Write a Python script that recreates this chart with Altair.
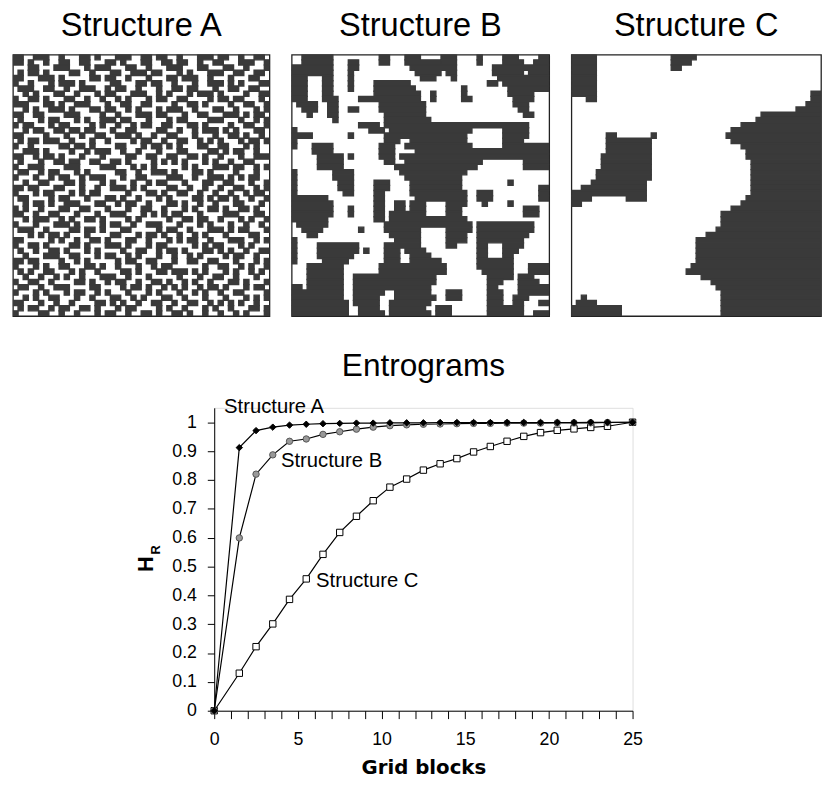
import altair as alt
import pandas as pd

N = 50
DARK = "#3a3a3a"

# ---------- Structure A: rows of the 50x50 grid ('#' = dark cell) ----------
A_rows = [
    "##..###..#" "...##.#..." "###..##.##" "..#...###." "##..#..##.",
    "##.#..#..#" "#..##...##" ".#...##..#" "#.##..#..#" "#...###..#",
    "...##...##" "#...#.###." "..##..#..." "###...##.." ".##..#...#",
    ".#.##.#..." ".##..#...#" "#..###.##." "..#.#...##" "#..##..##.",
    "##...###.#" ".....##.##" "..#...#..." "##.###..#." "..#...##..",
    "#..#...#.#" "##.#.....#" "#...##.##." ".#...#..##" "#.#.#...##",
    ".###..##.." "#..###..#." "##..#...#." ".##.##...#" "..##..##..",
    "..#.#...##" "..#...#.##" "...###..#." "#...#.###." "#....#..##",
    "#..##.#..." "##..#..#.." "#.#...#.##" "..##....#." "##.##...#.",
    "###...##.#" "..###...#." ".##..##..." ".#..##.#.." "..#..##..#",
    "..#.#..###" ".#...##.##" "..#.#...#." "###..#...#" "#..#...#.#",
    "##..##...." "###....#.." "#...###.##" "...#..##.." ".###.#.##.",
    ".#...#.##." "..#.#..###" ".##...#..." "#.##....##" "#...#..#.#",
    "#.##...#.#" "#....#.#.." "#..#.##..#" "#...##.#.." "..#..##..#",
    "..#.##..##" ".##.##...#" "..##....##" "..#..#.###" ".#.#...##.",
    "##....#..." "#..#..##.." "###.#..#.." "##...#...#" "..##.#..#.",
    ".#.##.###." ".#...#..#." "...#.##..#" "..##..#.#." "#...#.##.#",
    "#..#.....#" "#.##.#...." "##...#.##." "#.#...##.." "##...#.#..",
    "..###.#..." ".#..#.###." ".#..#...#." "..##....##" ".#.##..#..",
    "##..#.##.#" "...#...#.." "..##..##.." "##..##.#.." "#...#..###",
    ".#...#..##" ".##..##..#" "#.#....#.#" ".#.#...#.#" "..#..##...",
    "#..###...." "###....###" "...#.#.#.." "...#.#...#" "##.##..#.#",
    ".##..#.##." "..#.#....." "##..#..###" ".#...##.#." "...#...#..",
    "#...#..#.#" "#..#.###.." ".#..##...." "###..#..##" "#.#.#.##..",
    "..#..##..." "##.#...#.#" "...#..#.##" "...#...##." ".##...#..#",
    "##.##...##" "...#..#..#" "##.#.#...." "##..#..#.." "#..##..#.#",
    "#...#.##.." ".#.#.##..." "..#...##.#" "..##..#..#" "..#..#.##.",
    ".##....#.#" "#...#...##" ".#..#...#." "#....##.#." "##.#..#..#",
    "..#.##.#.." "###...##.." "#.##..#..." "##.#..#..#" "...##...#.",
    "#.#..#...#" "#..##...#." "..#..##..#" "...#.#..##" ".#..##.#..",
    "##..#..##." "..#...#..#" "##...#.#.#" ".##...#..." ".###...##.",
    "..#.###..#" ".#..##.#.." "..#.#....." "#..##.##.." "#...#.#..#",
    "#...#...##" "#.#....#.#" "#..#..###." "..#...#.#." "..#..#..#.",
    ".###..#..." ".##.##.#.." ".##.....#." "##..#...##" "#.#.##...#",
    "...#.#.##." "#...#....#" "#...#.##.#" "..#..#.#.." ".#....##..",
    "##.....#.#" "..#..##.#." "..##..#..." "#.#.##..#." "..###..#.#",
    "#..##.#..." ".##.#...##" "#.#...#.##" ".....#.#.#" "#...#.#...",
    ".#..#..##." "#...#.#..." ".#..##..#." "##.#...##." "#.#..#..##",
    "..#...###." ".##...#.##" "..#.#...#." ".#..#.#..." ".#.##..#..",
    "##.##....#" "..#.#....." "#.##..##.." ".#..##..##" "...#...#.#",
    "#...#.#..#" "#...##.#.." "#...#..#.#" "#......#.." "##..#.#..#",
    ".#.#..##.." ".#.#..#..." ".##.#...##" ".###.#.#.." ".#.#..#.#.",
    "..#..#..#." "#..#...###" "..#...#..." "..#...#..#" "#..#...#..",
    "#..##..#.." "..##.#..#." "##..#..##." "#..#.#..#." "..##.#...#",
    ".##..#..##" "#....##..." ".#.##.#..#" ".#.#..#.##" ".#...#.##.",
    "#...#.#..." "#.##..#.#." "..#...#.#." "..#..#.#.." "#..##....#",
    "..#.#..##." "..#..#...#" "#..#.#...#" "#..#...#.." ".#...#.#.#",
    "##...#..#." ".#....##.#" ".#..#..##." ".#..##..#." "#.#.#..#..",
    ".#.##..#.#" "#..##.#..." "#.##....#." "#..#...#.#" "..#...##.#",
    "#....##..#" "..#...#.##" "..#..##.#." ".##.#..#.." "#..#.#...#",
]

# ---------- Structure B: dark runs per row (first col, last col) ----------
B_runs = [
    [(2, 7), (17, 18), (22, 24), (29, 31), (36, 36), (41, 43), (48, 49)],
    [(2, 7), (11, 12), (17, 18), (22, 28), (29, 31), (36, 36), (41, 44), (47, 49)],
    [(0, 7), (11, 12), (23, 31), (39, 49)],
    [(0, 7), (11, 11), (24, 28), (30, 31), (39, 44), (46, 49)],
    [(0, 2), (6, 7), (11, 11), (25, 27), (31, 31), (40, 49)],
    [(0, 2), (6, 7), (11, 11), (16, 22), (38, 39), (41, 49)],
    [(0, 2), (6, 7), (11, 11), (16, 23), (33, 33), (42, 49)],
    [(0, 2), (6, 7), (16, 24), (27, 27), (33, 33), (42, 46)],
    [(0, 2), (6, 8), (13, 24), (27, 27), (33, 34), (43, 46)],
    [(1, 4), (7, 8), (17, 25), (43, 45)],
    [(2, 4), (7, 8), (11, 12), (17, 25), (44, 45)],
    [(3, 3), (7, 8), (18, 25), (45, 46)],
    [(8, 8), (18, 26)],
    [(13, 16), (18, 45)],
    [(0, 0), (15, 17), (19, 34), (41, 45)],
    [(0, 3), (11, 11), (18, 33), (41, 45)],
    [(0, 0), (18, 20), (23, 33), (41, 44)],
    [(0, 0), (4, 7), (17, 19), (22, 34), (41, 49)],
    [(4, 7), (17, 19), (24, 49)],
    [(5, 9), (11, 11), (17, 19), (21, 49)],
    [(5, 9), (18, 19), (22, 36), (45, 49)],
    [(5, 9), (20, 35), (45, 49)],
    [(0, 0), (8, 11), (21, 33)],
    [(0, 0), (8, 11), (22, 32)],
    [(0, 0), (9, 11), (16, 18), (23, 32), (42, 42)],
    [(0, 0), (9, 11), (16, 18), (23, 32), (48, 49)],
    [(0, 0), (10, 11), (16, 17), (23, 33), (36, 38), (48, 49)],
    [(0, 6), (16, 17), (24, 33), (36, 38), (48, 49)],
    [(0, 7), (16, 17), (20, 21), (23, 25), (30, 33), (37, 37), (42, 42)],
    [(0, 7), (11, 11), (16, 17), (20, 21), (23, 25), (30, 32), (45, 47)],
    [(0, 7), (11, 11), (16, 17), (19, 25), (30, 32), (45, 47)],
    [(0, 6), (16, 17), (19, 33)],
    [(1, 6), (18, 34), (36, 46)],
    [(2, 5), (13, 13), (18, 24), (30, 34), (36, 46)],
    [(3, 4), (19, 24), (30, 33), (36, 45)],
    [(0, 0), (20, 24), (30, 33), (36, 44)],
    [(0, 0), (5, 12), (18, 24), (30, 31), (36, 37), (41, 44)],
    [(0, 0), (5, 12), (14, 14), (18, 20), (22, 25), (36, 37), (41, 43)],
    [(0, 0), (5, 11), (18, 20), (23, 26), (36, 37), (41, 42)],
    [(0, 0), (6, 10), (18, 20), (23, 28), (36, 42)],
    [(3, 9), (17, 29), (36, 42), (46, 49)],
    [(3, 9), (17, 29), (37, 42), (46, 49)],
    [(3, 9), (12, 27), (38, 42), (44, 46)],
    [(3, 9), (12, 27), (38, 40), (44, 47)],
    [(0, 1), (3, 9), (12, 26), (38, 39), (44, 49)],
    [(0, 9), (12, 17), (20, 26), (30, 32), (38, 40), (44, 49)],
    [(0, 9), (12, 16), (20, 27), (30, 32), (38, 40), (43, 45)],
    [(0, 10), (12, 16), (19, 26), (38, 40), (43, 44), (48, 49)],
    [(0, 10), (13, 16), (19, 25), (28, 30), (38, 44)],
    [(0, 10), (13, 17), (19, 26), (28, 30), (38, 44), (47, 49)],
]

# ---------- Structure C: dark runs per row ----------
C_runs = [
    [(0, 4), (20, 24)],
    [(0, 4), (20, 23)],
    [(0, 4), (20, 21)],
    [(0, 4)], [(0, 4)], [(0, 4)], [(0, 4)],
    [(0, 4), (48, 49)],
    [(3, 4), (48, 49)],
    [(47, 49)],
    [(45, 49)],
    [(38, 49)],
    [(37, 49)],
    [(34, 49)],
    [(32, 49)],
    [(7, 8), (16, 16), (31, 49)],
    [(7, 15), (32, 49)],
    [(7, 15), (34, 49)],
    [(7, 15), (35, 49)],
    [(6, 15), (35, 49)],
    [(6, 15), (36, 49)],
    [(6, 15), (36, 49)],
    [(5, 15), (36, 49)],
    [(5, 15), (36, 49)],
    [(4, 14), (36, 49)],
    [(2, 14), (36, 49)],
    [(0, 14), (36, 49)],
    [(0, 3), (11, 14), (35, 49)],
    [(0, 1), (34, 49)],
    [(32, 49)],
    [(30, 49)], [(30, 49)], [(30, 49)],
    [(29, 49)],
    [(27, 49)],
    [(25, 49)], [(25, 49)], [(25, 49)], [(25, 49)], [(25, 49)],
    [(24, 49)],
    [(23, 49)],
    [(26, 49)],
    [(28, 49)],
    [(29, 49)],
    [(30, 49)],
    [(2, 2), (30, 49)],
    [(1, 4), (30, 49)],
    [(0, 9), (30, 49)],
    [(0, 9), (30, 49)],
]

# ---------- Entrograms ----------
grid_blocks = [0, 1.5, 2.5, 3.5, 4.5, 5.5, 6.5, 7.5, 8.5, 9.5, 10.5, 11.5, 12.5,
               13.5, 14.5, 15.5, 16.5, 17.5, 18.5, 19.5, 20.5, 21.5, 22.5, 23.5, 25]
hr_A = [0, 0.912, 0.971, 0.983, 0.990, 0.993, 0.995, 0.996, 0.997, 0.997, 0.998, 0.998, 0.998,
        0.999, 0.999, 0.999, 0.999, 0.999, 0.999, 0.999, 0.999, 0.999, 1.0, 1.0, 1.0]
hr_B = [0, 0.599, 0.820, 0.887, 0.934, 0.942, 0.958, 0.967, 0.976, 0.983, 0.988, 0.991, 0.993,
        0.994, 0.995, 0.996, 0.996, 0.997, 0.997, 0.997, 0.998, 0.998, 0.998, 0.999, 1.0]
hr_C = [0, 0.130, 0.222, 0.301, 0.386, 0.457, 0.542, 0.618, 0.674, 0.728, 0.775, 0.803, 0.834,
        0.856, 0.874, 0.897, 0.916, 0.934, 0.951, 0.964, 0.972, 0.977, 0.982, 0.986, 1.0]
y_ticks = [0, 0.1, 0.2, 0.3, 0.4, 0.5, 0.6, 0.7, 0.8, 0.9, 1.0]
x_ticks = list(range(26))

label_names = ["Structure A", "Structure B", "Structure C"]
label_x = [0.59, 3.99, 6.09]
label_y = [1.033, 0.846, 0.4275]


def string_runs(s):
    s = s.ljust(N, ".")[:N]
    runs, start = [], None
    for i, ch in enumerate(s):
        if ch == "#" and start is None:
            start = i
        elif ch != "#" and start is not None:
            runs.append((start, i - 1))
            start = None
    if start is not None:
        runs.append((start, N - 1))
    return runs


def cells(rows_runs):
    recs = []
    for r, runs in enumerate(rows_runs):
        for a, b in runs:
            recs.append({"c0": a, "c1": b + 1, "r0": r, "r1": r + 1})
    return pd.DataFrame(recs)


PANEL_H = 265


def panel(df, title, w):
    rects = alt.Chart(df).mark_rect(color=DARK, stroke=DARK, strokeWidth=1.4, clip=True).encode(
        x=alt.X("c0:Q", scale=alt.Scale(domain=[0, N], nice=False, zero=False), axis=None),
        x2="c1:Q",
        y=alt.Y("r0:Q", scale=alt.Scale(domain=[0, N], nice=False, zero=False, reverse=True), axis=None),
        y2="r1:Q",
    )
    ttl = alt.Chart(pd.DataFrame({"t": [title]})).mark_text(
        align="center", baseline="alphabetic", font="Liberation Sans", fontSize=33, color="black"
    ).encode(text="t:N", x=alt.value(w / 2), y=alt.value(-19))
    return alt.layer(rects, ttl).properties(
        width=w, height=PANEL_H,
        view=alt.ViewBackground(stroke="#222222", strokeWidth=1.3),
    )


pA = panel(cells([string_runs(s) for s in A_rows]), "Structure A", 260)
pB = panel(cells(B_runs), "Structure B", 261)
pC = panel(cells(C_runs), "Structure C", 253)
top = alt.hconcat(pA, pB, pC, spacing=20.5)

# line chart
PLOT_W, PLOT_H = 424, 307
xs = alt.Scale(domain=[0, 25], nice=False, zero=False)
ys = alt.Scale(domain=[0, 1.05], nice=False, zero=False)

x_axis = alt.Axis(values=x_ticks, labelExpr="datum.value % 5 === 0 ? datum.label : ''",
                  tickSize=8, labelPadding=12, title="Grid blocks", titleFont="DejaVu Sans",
                  titleFontSize=20, titleFontWeight="bold", titlePadding=10, titleColor="black",
                  grid=False, domainColor="black", tickColor="black", labelColor="black",
                  labelFont="Liberation Sans", labelFontSize=18, labelFlush=False,
                  labelOverlap=False)
y_axis = alt.Axis(values=y_ticks, format=".1~f", tickSize=7, labelPadding=11, title=None,
                  grid=False, domainColor="black", tickColor="black", labelColor="black",
                  labelFont="Liberation Sans", labelFontSize=18, labelFlush=False,
                  labelOverlap=False)

XE = alt.X("x:Q", scale=xs, axis=x_axis)
YE = alt.Y("y:Q", scale=ys, axis=y_axis)


def series(vals, shape, fill, stroke, size):
    df = pd.DataFrame({"x": grid_blocks, "y": vals})
    base = alt.Chart(df)
    line = base.mark_line(color="black", strokeWidth=1.2).encode(x=XE, y=YE)
    pts = base.mark_point(shape=shape, filled=True, fill=fill, stroke=stroke, strokeWidth=1,
                          size=size, opacity=1).encode(x=XE, y=YE)
    return line + pts


lc = series(hr_C, "square", "white", "black", 42)
lb = series(hr_B, "circle", "#999999", "#555555", 42)
la = series(hr_A, "diamond", "black", "black", 42)

lab_df = pd.DataFrame({"name": label_names, "x": label_x, "y": label_y})
labels = alt.Chart(lab_df).mark_text(align="left", baseline="alphabetic", font="Liberation Sans",
                                     fontSize=20.5, color="black").encode(x=XE, y=YE, text="name:N")

h_txt = alt.Chart(pd.DataFrame({"t": ["H"]})).mark_text(
    angle=270, align="center", baseline="alphabetic", font="Liberation Sans", fontWeight="bold",
    fontSize=22, color="black").encode(text="t:N", x=alt.value(-62), y=alt.value(158.5))
r_txt = alt.Chart(pd.DataFrame({"t": ["R"]})).mark_text(
    angle=270, align="center", baseline="alphabetic", font="Liberation Sans", fontWeight="bold",
    fontSize=13, color="black").encode(text="t:N", x=alt.value(-55), y=alt.value(144))
ent_txt = alt.Chart(pd.DataFrame({"t": ["Entrograms"]})).mark_text(
    align="center", baseline="alphabetic", font="Liberation Sans", fontSize=32, color="black"
).encode(text="t:N", x=alt.value(PLOT_W / 2), y=alt.value(-32))

line_chart = alt.layer(lc, lb, la, labels, h_txt, r_txt, ent_txt).properties(
    width=PLOT_W, height=PLOT_H,
)

# empty block that keeps the entrogram plot's left edge under the figure above
spacer = alt.Chart(pd.DataFrame({"v": [0]})).mark_point(opacity=0).encode(
    x=alt.X("v:Q", axis=None), y=alt.Y("v:Q", axis=None)
).properties(width=123, height=1,
             view=alt.ViewBackground(stroke="white", strokeOpacity=0, strokeWidth=0,
                                     fill="white", fillOpacity=0))

bottom = alt.hconcat(spacer, line_chart, spacing=0)

chart = alt.vconcat(top, bottom, spacing=33).properties(
    padding={"left": 4, "top": -4, "right": 0, "bottom": -4}
).configure_view(stroke="transparent", strokeWidth=0).configure(background="white")

chart.save("out.html", embed_options={"renderer": "svg", "actions": False})
